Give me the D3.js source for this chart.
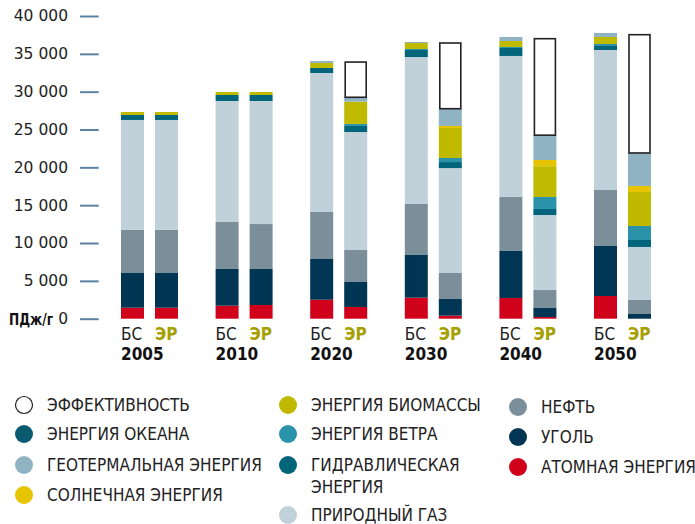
<!DOCTYPE html>
<html>
<head>
<meta charset="utf-8">
<script src="https://cdn.jsdelivr.net/npm/d3@7"></script>
<style>
  body { margin: 0; background: #fff; }
  svg { display: block; }
  .narrow { font-family: "Liberation Sans Narrow", "DejaVu Sans Condensed", sans-serif; }
</style>
</head>
<body>
<svg id="chart" width="695" height="524"></svg>
<script>
// years and scenarios (БС = base scenario, ЭР = energy revolution)
var years = ["2005", "2010", "2020", "2030", "2040", "2050"];
var scenarios = ["БС", "ЭР"];

// series in stacking order, bottom to top
var seriesKeys = ["nuclear", "coal", "oil", "gas", "hydro", "wind", "biomass", "solar", "geo", "ocean", "eff"];

// values in PJ/yr, one per bar: 2005 БС, 2005 ЭР, 2010 БС, 2010 ЭР, ... 2050 ЭР
var nuclear = [1450, 1450, 1720, 1810, 2510, 1550, 2780, 400, 2740, 220, 3000, 0];
var coal    = [4590, 4590, 4850, 4760, 5380, 3300, 5640, 2200, 6210, 1190, 6610, 620];
var oil     = [5720, 5720, 6210, 5940, 6210, 4230, 6740, 3440, 7130, 2380, 7400, 1850];
var gas     = [14500, 14500, 15990, 16260, 18370, 15590, 19420, 13860, 18640, 9910, 18500, 7010];
var hydro   = [660, 660, 790, 790, 660, 800, 930, 800, 1050, 800, 530, 920];
var wind    = [0, 0, 0, 0, 0, 270, 130, 540, 130, 1580, 260, 1850];
var biomass = [400, 400, 400, 400, 660, 2940, 790, 3960, 800, 4070, 930, 4490];
var solar   = [0, 0, 0, 0, 0, 0, 0, 270, 0, 820, 0, 800];
var geo     = [0, 0, 0, 0, 260, 580, 140, 2280, 530, 3280, 530, 4360];
var ocean   = [0, 0, 0, 0, 0, 0, 0, 0, 0, 0, 0, 0];
var eff     = [0, 0, 0, 0, 0, 4750, 0, 8780, 0, 12850, 0, 15730];

var yTicks = [0, 5000, 10000, 15000, 20000, 25000, 30000, 35000, 40000];

var colors = {
  nuclear: "#d0021b", coal: "#003553", oil: "#7b8f9a", gas: "#c0d1d9",
  hydro: "#00657b", wind: "#2a93aa", biomass: "#bfba00", solar: "#e6c400",
  geo: "#8fb3c3", ocean: "#0a5a70", eff: "#ffffff"
};

var labels = {
  eff: "ЭФФЕКТИВНОСТЬ", ocean: "ЭНЕРГИЯ ОКЕАНА", geo: "ГЕОТЕРМАЛЬНАЯ ЭНЕРГИЯ",
  solar: "СОЛНЕЧНАЯ ЭНЕРГИЯ", biomass: "ЭНЕРГИЯ БИОМАССЫ", wind: "ЭНЕРГИЯ ВЕТРА",
  hydro: "ГИДРАВЛИЧЕСКАЯ|ЭНЕРГИЯ", gas: "ПРИРОДНЫЙ ГАЗ", oil: "НЕФТЬ",
  coal: "УГОЛЬ", nuclear: "АТОМНАЯ ЭНЕРГИЯ"
};
var legendCols = [
  ["eff", "ocean", "geo", "solar"],
  ["biomass", "wind", "hydro", "gas"],
  ["oil", "coal", "nuclear"]
];

var seriesData = { nuclear: nuclear, coal: coal, oil: oil, gas: gas, hydro: hydro, wind: wind,
  biomass: biomass, solar: solar, geo: geo, ocean: ocean, eff: eff };

// build the table of bars
var rows = [];
years.forEach(function(y, i) {
  scenarios.forEach(function(s, j) {
    var row = { year: y, scen: s };
    seriesKeys.forEach(function(k) { row[k] = seriesData[k][i * 2 + j]; });
    rows.push(row);
  });
});

var svg = d3.select("#chart");

var y = d3.scaleLinear().domain([0, 40000]).range([318.7, 16]);
var x0 = d3.scaleBand().domain(years).range([121, 121 + 6 * 94.6]).paddingInner(0);
var x1 = d3.scaleBand().domain(scenarios).range([0, 57]).paddingInner(0.324);

// y axis
var yAxis = svg.append("g").attr("transform", "translate(98.7,0)")
  .call(d3.axisLeft(y).tickValues(yTicks).tickSize(18.7).tickPadding(12)
    .tickFormat(function(d) { return d3.format(",")(d).replace(/,/g, " "); }));
yAxis.select(".domain").remove();
yAxis.selectAll(".tick line").attr("stroke", "#5b82a3").attr("stroke-width", 2);
yAxis.selectAll(".tick text").attr("font-family", "DejaVu Sans").attr("font-size", 15.5)
  .attr("fill", "#222");

svg.append("text").attr("class", "narrow").attr("x", 53).attr("y", 325)
  .attr("text-anchor", "end").attr("font-weight", "bold").attr("font-size", 15)
  .attr("textLength", 44).attr("lengthAdjust", "spacingAndGlyphs")
  .attr("fill", "#111").text("ПДж/г");

// stacked bars
var stack = d3.stack().keys(seriesKeys);
var layers = stack(rows);

svg.append("g").selectAll("g")
  .data(layers)
  .join("g")
  .attr("fill", function(d) { return colors[d.key]; })
  .each(function(layer) {
    var isEff = layer.key === "eff";
    d3.select(this).selectAll("rect")
      .data(layer.filter(function(d) { return d[1] - d[0] > 0; }))
      .join("rect")
      .attr("x", function(d) { return x0(d.data.year) + x1(d.data.scen) + (isEff ? 1 : 0); })
      .attr("y", function(d) { return y(d[1]) + (isEff ? 0.75 : 0); })
      .attr("width", x1.bandwidth() - (isEff ? 2 : 0))
      .attr("height", function(d) { return y(d[0]) - y(d[1]) - (isEff ? 0.75 : 0); })
      .attr("stroke", isEff ? "#222" : null)
      .attr("stroke-width", isEff ? 1.6 : null);
  });

// x labels
var xl = svg.append("g").attr("class", "narrow");
rows.forEach(function(r) {
  xl.append("text")
    .attr("x", x0(r.year) + x1(r.scen))
    .attr("y", 340)
    .attr("font-size", 17)
    .attr("font-weight", r.scen === "ЭР" ? "bold" : "normal")
    .attr("fill", r.scen === "ЭР" ? "#a59f00" : "#222")
    .text(r.scen);
});
years.forEach(function(yr) {
  xl.append("text")
    .attr("x", x0(yr) + x1("БС"))
    .attr("y", 360)
    .attr("font-size", 17)
    .attr("font-weight", "bold")
    .attr("fill", "#111")
    .text(yr);
});

// legend
var colX = [24, 288, 518];
var rowY = [[405, 434, 465, 495], [405, 434, 465, 515], [407, 437, 467]];
var lg = svg.append("g").attr("class", "narrow");
legendCols.forEach(function(col, ci) {
  col.forEach(function(key, ri) {
    var cy = rowY[ci][ri];
    lg.append("circle")
      .attr("cx", colX[ci]).attr("cy", cy)
      .attr("r", key === "eff" ? 8.5 : 9)
      .attr("fill", colors[key])
      .attr("stroke", key === "eff" ? "#222" : "none")
      .attr("stroke-width", 1.2);
    var t = lg.append("text")
      .attr("x", colX[ci] + 23).attr("y", cy + 6)
      .attr("font-size", 17).attr("fill", "#222");
    labels[key].split("|").forEach(function(line, li) {
      t.append("tspan").attr("x", colX[ci] + 23).attr("dy", li === 0 ? 0 : 22).text(line);
    });
  });
});
</script>
</body>
</html>
